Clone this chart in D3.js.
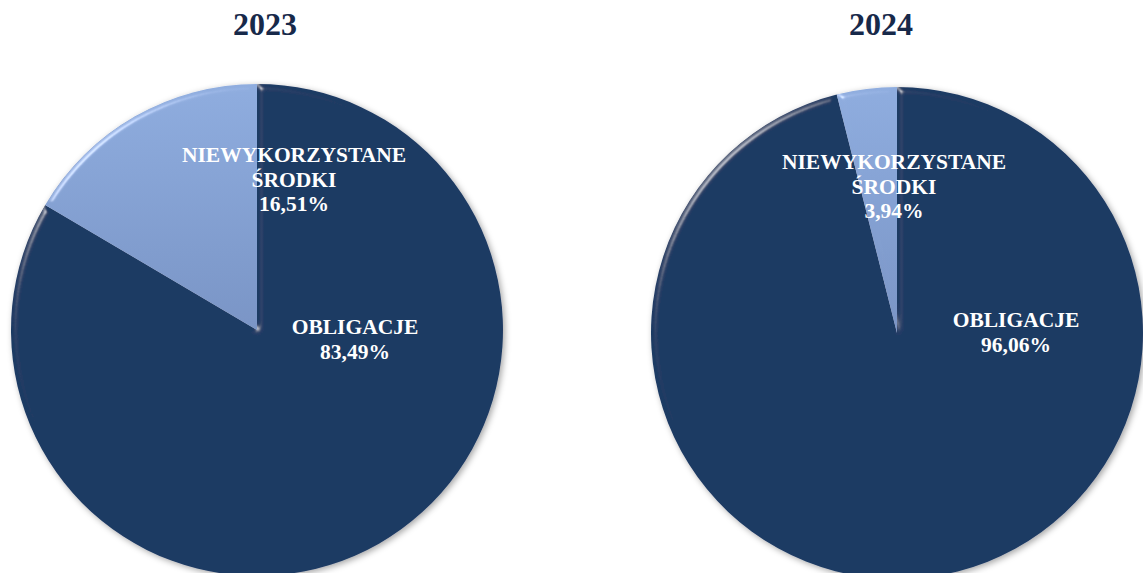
<!DOCTYPE html>
<html>
<head>
<meta charset="utf-8">
<script src="https://cdn.jsdelivr.net/npm/d3@7/dist/d3.min.js"></script>
<style>
    body { margin: 0; background: #fff; }
    svg { display: block; }
</style>
</head>
<body>
<svg width="1143" height="573"></svg>
<script>
// data
var years = ["2023", "2024"];
var categories = ["OBLIGACJE", "NIEWYKORZYSTANE ŚRODKI"];
var values2023 = [83.49, 16.51];
var values2024 = [96.06, 3.94];

var series = { "2023": values2023, "2024": values2024 };

// label placement (offsets of first baseline from pie centre), as Excel put them
var labelOffsets = {
    "2023": [[98, 4], [37, -168]],
    "2024": [[119, -6], [-3, -164]]
};

var svg = d3.select("svg"),
    width = +svg.attr("width"),
    height = +svg.attr("height");

var radius = 246;
var centerX = d3.scalePoint().domain(years).range([257, 897]);
var centerY = d3.scalePoint().domain(years).range([330, 333]);
var titleX = d3.scalePoint().domain(years).range([265, 881]);

var pl = d3.formatLocale({ decimal: ",", thousands: " ", grouping: [3], currency: ["", " zł"] });
var pct = function(v) { return pl.format(".2f")(v) + "%"; };

var color = d3.scaleOrdinal().domain(categories).range(["url(#darkFill)", "url(#lightFill)"]);

var pie = d3.pie().sort(null).value(function(d) { return d; });
var arc = d3.arc().innerRadius(0).outerRadius(radius);

// defs: gradients, bevel, shadow
var defs = svg.append("defs");

var dark = defs.append("radialGradient").attr("id", "darkFill")
    .attr("cx", "50%").attr("cy", "50%").attr("r", "50%");
dark.append("stop").attr("offset", "0%").attr("stop-color", "#1f3a64");
dark.append("stop").attr("offset", "100%").attr("stop-color", "#1f3a63");

var light = defs.append("linearGradient").attr("id", "lightFill")
    .attr("x1", 0).attr("y1", 0).attr("x2", 0).attr("y2", 1);
light.append("stop").attr("offset", "0%").attr("stop-color", "#8faddf");
light.append("stop").attr("offset", "100%").attr("stop-color", "#7a95c6");

var bevel = defs.append("filter").attr("id", "bevel")
    .attr("x", "-5%").attr("y", "-5%").attr("width", "110%").attr("height", "110%");
bevel.append("feGaussianBlur").attr("in", "SourceAlpha").attr("stdDeviation", 3).attr("result", "blur");
bevel.append("feSpecularLighting")
    .attr("in", "blur").attr("surfaceScale", 4).attr("specularConstant", 0.7)
    .attr("specularExponent", 50).attr("lighting-color", "#ffffff").attr("result", "spec")
  .append("feDistantLight").attr("azimuth", 225).attr("elevation", 30);
bevel.append("feComposite").attr("in", "spec").attr("in2", "SourceAlpha")
    .attr("operator", "in").attr("result", "specIn");
bevel.append("feComposite").attr("in", "SourceGraphic").attr("in2", "specIn")
    .attr("operator", "arithmetic").attr("k1", 0).attr("k2", 1).attr("k3", 0.6).attr("k4", 0);

var shadow = defs.append("filter").attr("id", "shadow")
    .attr("x", "-10%").attr("y", "-10%").attr("width", "120%").attr("height", "120%");
shadow.append("feDropShadow").attr("dx", 2).attr("dy", 2).attr("stdDeviation", 3)
    .attr("flood-color", "#000").attr("flood-opacity", 0.35);

years.forEach(function(year) {
    var cx = centerX(year), cy = centerY(year);

    svg.append("text")
        .attr("x", titleX(year))
        .attr("y", 35)
        .attr("text-anchor", "middle")
        .attr("font-family", "'Liberation Serif', 'Times New Roman', serif")
        .attr("font-weight", "bold")
        .attr("font-size", 32)
        .attr("fill", "#17294a")
        .text(year);

    var g = svg.append("g")
        .attr("transform", "translate(" + cx + "," + cy + ")");

    var slices = g.append("g").attr("filter", "url(#shadow)");
    slices.selectAll("path")
        .data(pie(series[year]))
        .enter().append("path")
            .attr("d", arc)
            .attr("fill", function(d, i) { return color(categories[i]); })
            .attr("filter", "url(#bevel)");

    // labels
    var labels = g.selectAll("text.label")
        .data(series[year])
        .enter().append("text")
            .attr("class", "label")
            .attr("text-anchor", "middle")
            .attr("font-family", "'Liberation Serif', 'Times New Roman', serif")
            .attr("font-weight", "bold")
            .attr("font-size", 21.5)
            .attr("fill", "#ffffff")
            .attr("transform", function(d, i) {
                var o = labelOffsets[year][i];
                return "translate(" + o[0] + "," + o[1] + ")";
            });

    labels.each(function(v, i) {
        var lines = categories[i].split(" ").concat([pct(v)]);
        d3.select(this).selectAll("tspan")
            .data(lines)
            .enter().append("tspan")
                .attr("x", 0)
                .attr("y", function(d, k) { return k * 24.5; })
                .text(function(d) { return d; });
    });
});
</script>
</body>
</html>
